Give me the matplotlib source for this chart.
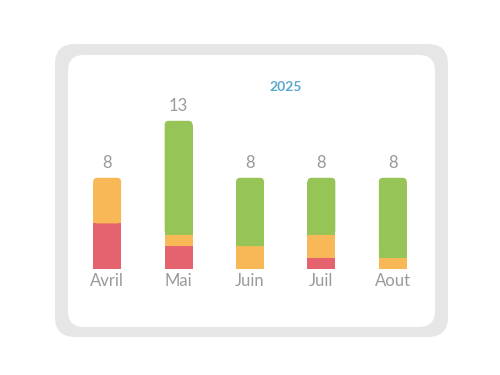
import matplotlib.pyplot as plt
from matplotlib.patches import FancyBboxPatch
import numpy as np

months = ["Avril", "Mai", "Juin", "Juil", "Aout"]
red = [4, 2, 0, 1, 0]
orange = [4, 1, 2, 2, 1]
green = [0, 10, 6, 5, 7]
title = "2025"

colors = ["#E4636F", "#F9B857", "#97C457"]
label_color = "#9A9A9A"
plt.rcParams['font.family'] = ['Lato', 'DejaVu Sans']

fig = plt.figure(figsize=(5, 3.75), dpi=100)

# background card in pixel coords
bg = fig.add_axes([0, 0, 1, 1])
bg.set_xlim(0, 500)
bg.set_ylim(375, 0)
bg.axis("off")
bg.add_patch(FancyBboxPatch((55, 44), 393, 293, boxstyle="round,pad=0,rounding_size=20",
                            fc="#E6E6E6", ec="none"))
bg.add_patch(FancyBboxPatch((68, 55), 367, 272, boxstyle="round,pad=0,rounding_size=16",
                            fc="white", ec="none"))

ax = fig.add_axes([71.5 / 500, (375 - 269) / 375, 357 / 500, 182.4 / 375])
ax.set_xlim(-0.5, 4.5)
ax.set_ylim(0, 16)
ax.axis("off")

w = 0.39
px_per_unit = 182.4 / 16
r_px = 4
x = np.arange(len(months))
for i in x:
    base = 0
    segs = [(red[i], colors[0]), (orange[i], colors[1]), (green[i], colors[2])]
    segs = [s for s in segs if s[0] > 0]
    for j, (v, c) in enumerate(segs):
        if j < len(segs) - 1:
            ax.bar(i, v, w, bottom=base, color=c, linewidth=0)
        else:
            # top segment gets rounded upper corners
            r_y = r_px / px_per_unit
            ax.bar(i, v - r_y, w, bottom=base, color=c, linewidth=0)
            r_x = r_px / (357 / 5)
            ax.add_patch(FancyBboxPatch((i - w / 2, base), w, v,
                                        boxstyle=f"round,pad=0,rounding_size={r_x}",
                                        mutation_aspect=r_y / r_x, fc=c, ec="none"))
        base += v
    total = red[i] + orange[i] + green[i]
    ax.text(i, total + 15 / px_per_unit, str(total), ha="center", va="center",
            fontsize=12, color=label_color)
    ax.text(i, -12 / px_per_unit, months[i], ha="center", va="center",
            fontsize=12, color=label_color)

ax.text(2.5, 16, title, ha="center", va="center", fontsize=10, fontweight="bold",
        color="#5AA9CF")

fig.savefig("out.png", dpi=100)
